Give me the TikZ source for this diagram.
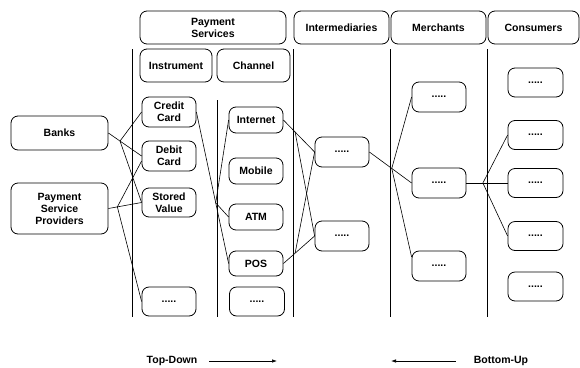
\documentclass[tikz,border=0pt]{standalone}
\usepackage{fontspec}
\setmainfont{Liberation Sans}
\usetikzlibrary{arrows.meta,calc}
\begin{document}
\begin{tikzpicture}[x=1pt,y=-1pt,
  box/.style={draw, line width=0.8pt, rounded corners=7pt, align=center, inner sep=0pt,
    font=\fontsize{10.5}{12}\selectfont\bfseries},
  sbox/.style={box, minimum width=54pt, minimum height=29pt},
  conn/.style={line width=0.6pt},
  lane/.style={line width=0.7pt},
  lbl/.style={font=\fontsize{10.5}{12}\selectfont\bfseries, inner sep=0pt},
  dir/.style={line width=0.7pt, -{Latex[length=5pt,width=3.5pt]}}]
\useasboundingbox (0,0) rectangle (580,367);
% headers
\node[box, minimum width=146pt, minimum height=33pt] (ps) at (213,27.5) {Payment\\Services};
\node[box, minimum width=95pt, minimum height=33pt] (inter) at (341.5,27.5) {Intermediaries};
\node[box, minimum width=95pt, minimum height=33pt] (merch) at (438.5,27.5) {Merchants};
\node[box, minimum width=91pt, minimum height=33pt] (cons) at (533.5,27.5) {Consumers};
\node[box, minimum width=72pt, minimum height=33pt] (instr) at (176,65.5) {Instrument};
\node[box, minimum width=73pt, minimum height=33pt] (chan) at (253.5,65.5) {Channel};
% lanes
\draw[lane] (132,49) -- (132,317);
\draw[lane] (217,100) -- (217,317);
\draw[lane] (293,49) -- (293,317);
\draw[lane] (390,49) -- (390,317);
\draw[lane] (487,49) -- (487,317);
% left
\node[box, minimum width=97pt, minimum height=34pt] (banks) at (59.5,133) {Banks};
\node[box, minimum width=97pt, minimum height=51pt] (psp) at (59.5,208.5) {Payment\\Service\\Providers};
% instruments
\node[sbox, minimum height=30pt] (cc) at (169,112) {Credit\\Card};
\node[sbox, minimum height=30pt] (dc) at (169,156) {Debit\\Card};
\node[sbox] (sv) at (169,202.5) {Stored\\Value};
\node[sbox] (idots) at (169,301.5) {.....};
% channels
\node[sbox, minimum height=26pt] (inet) at (256,120) {Internet};
\node[sbox, minimum height=26pt] (mob) at (256,171) {Mobile};
\node[sbox, minimum height=26pt] (atm) at (256,217) {ATM};
\node[sbox, minimum height=25pt] (pos) at (256,263.5) {POS};
\node[sbox, minimum width=55pt] (cdots) at (257,301.5) {.....};
% intermediaries
\node[sbox, minimum height=30pt] (i1) at (342,152) {.....};
\node[sbox, minimum height=30pt] (i2) at (342,236) {.....};
% merchants
\node[sbox, minimum height=30pt] (m1) at (439,97) {.....};
\node[sbox, minimum height=30pt] (m2) at (439,183) {.....};
\node[sbox, minimum height=30pt] (m3) at (439,266) {.....};
% consumers
\node[sbox, minimum width=55pt] (c1) at (535.5,82.5) {.....};
\node[sbox, minimum width=55pt] (c2) at (535.5,135) {.....};
\node[sbox, minimum width=55pt] (c3) at (535.5,183) {.....};
\node[sbox, minimum width=55pt] (c4) at (535.5,236) {.....};
\node[sbox, minimum width=55pt] (c5) at (535.5,286.5) {.....};
% junctions
\coordinate (jb) at ($(banks.east)!0.35!(dc.west)$);
\coordinate (jp) at ($(psp.east)!0.27!(sv.west)$);
\coordinate (jc) at ($(cc.east)!0.6!(pos.west)$);
\coordinate (ji) at ($(inet.east)!0.375!(i1.west)$);
\coordinate (jq) at ($(pos.east)!0.375!(i2.west)$);
\coordinate (jm) at ($(i1.east)!0.53!(m2.west)$);
\coordinate (jk) at ($(m2.east)!0.4!(c3.west)$);
% connectors
\draw[conn] (banks.east) -- (dc.west);
\draw[conn] (jb) -- (cc.west);
\draw[conn] (jb) -- (sv.west);
\draw[conn] (psp.east) -- (sv.west);
\draw[conn] (jp) -- ($(dc.west)+(0,5)$);
\draw[conn] (jp) -- (idots.west);
\draw[conn] (cc.east) -- (pos.west);
\draw[conn] (jc) -- (inet.west);
\draw[conn] (jc) -- (atm.west);
\draw[conn] (inet.east) -- (i1.west);
\draw[conn] (ji) -- (i2.west);
\draw[conn] (pos.east) -- (i2.west);
\draw[conn] (jq) -- (i1.west);
\draw[conn] (i1.east) -- (m2.west);
\draw[conn] (jm) -- (m1.west);
\draw[conn] (jm) -- ($(m3.west)+(0,-9)$);
\draw[conn] (m2.east) -- (c3.west);
\draw[conn] (jk) -- (c2.west);
\draw[conn] (jk) -- (c4.west);
% bottom
\node[lbl] (td) at (172,361) {Top-Down};
\node[lbl] (bu) at (501,361) {Bottom-Up};
\coordinate (tdend) at (277,361);
\coordinate (buend) at (391,361);
\draw[dir] ($(td.east)+(12,0)$) -- (tdend);
\draw[dir] ($(bu.west)+(-18,0)$) -- (buend);
\end{tikzpicture}
\end{document}
